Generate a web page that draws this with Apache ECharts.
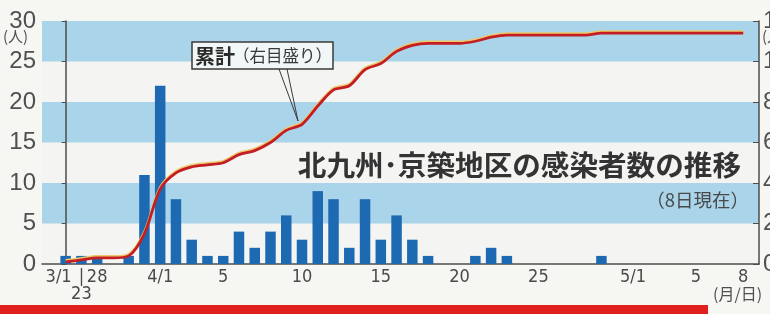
<!DOCTYPE html>
<html>
<head>
<meta charset="utf-8">
<script src="https://cdn.jsdelivr.net/npm/echarts@6/dist/echarts.min.js"></script>
<style>
    html, body { margin: 0; padding: 0; background: #f6f6f3; }
    #chart { width: 770px; height: 314px; }
</style>
</head>
<body>
<div id="chart"></div>
<script>
// Days shown on the axis (the axis jumps from 3/1 to 3/23, then to 3/28)
const dates = [
    '3/1', '3/23', '3/28', '3/29', '3/30', '3/31',
    '4/1', '4/2', '4/3', '4/4', '4/5', '4/6', '4/7', '4/8', '4/9', '4/10',
    '4/11', '4/12', '4/13', '4/14', '4/15', '4/16', '4/17', '4/18', '4/19', '4/20',
    '4/21', '4/22', '4/23', '4/24', '4/25', '4/26', '4/27', '4/28', '4/29', '4/30',
    '5/1', '5/2', '5/3', '5/4', '5/5', '5/6', '5/7', '5/8'
];

// New cases per day (left scale)
const newCases = [
    1, 1, 1, 0, 1, 11,
    22, 8, 3, 1, 1, 4, 2, 4, 6, 3,
    9, 8, 2, 8, 3, 6, 3, 1, 0, 0,
    1, 2, 1, 0, 0, 0, 0, 0, 1, 0,
    0, 0, 0, 0, 0, 0, 0, 0
];

// Cumulative total (right scale)
const cumulative = [
    1, 2, 3, 3, 4, 15,
    37, 45, 48, 49, 50, 54, 56, 60, 66, 69,
    78, 86, 88, 96, 99, 105, 108, 109, 109, 109,
    110, 112, 113, 113, 113, 113, 113, 113, 114, 114,
    114, 114, 114, 114, 114, 114, 114, 114
];

// Which days get a label on the x axis, and what it reads
const labelDates = ['3/1', '3/23', '3/28', '4/1', '4/5', '4/10', '4/15', '4/20', '4/25', '5/1', '5/5', '5/8'];
const labelTexts = ['3/1', '|\n23', '28', '4/1', '5', '10', '15', '20', '25', '5/1', '5', '8'];

const numFont = '"Liberation Sans", Arial, sans-serif';
const narrowFont = '"Liberation Sans Narrow", "DejaVu Sans Condensed", "Liberation Sans", sans-serif';
const jpFont = '"Noto Sans CJK JP", "Noto Sans", sans-serif';

const chart = echarts.init(document.getElementById('chart'));

const barData = dates.map((d, i) => [i, newCases[i]]);
const lineData = dates.map((d, i) => [i, cumulative[i]]);

const option = {
    animation: false,
    backgroundColor: '#f6f6f3',
    grid: { left: 42, right: 11, top: 21, bottom: 50, containLabel: false, outerBoundsMode: 'none' },
    xAxis: {
        type: 'value',
        min: -1.5,
        max: 44,
        interval: 0.5,
        axisLine: { show: true, lineStyle: { color: '#4d4d4d', width: 1.5 } },
        axisTick: { show: false },
        splitLine: { show: false },
        axisLabel: {
            margin: 5,
            color: '#4a4a4a',
            fontSize: 18,
            lineHeight: 17,
            fontFamily: narrowFont,
            showMinLabel: false,
            showMaxLabel: true,
            formatter: function(v) {
                if (!Number.isInteger(v) || v < 0 || v >= dates.length) return '';
                const k = labelDates.indexOf(dates[v]);
                if (k < 0) return '';
                if (k === 0) return '{l|' + labelTexts[k] + '}';
                return labelTexts[k];
            },
            rich: {
                l: { fontSize: 18, color: '#4a4a4a', fontFamily: narrowFont, padding: [0, 14, 0, 0] }
            }
        }
    },
    yAxis: [
        {
            type: 'value',
            position: 'left',
            min: 0,
            max: 30,
            interval: 5,
            axisLine: { show: true, lineStyle: { color: '#4d4d4d', width: 1.5 } },
            axisTick: { show: true, length: 4, lineStyle: { color: '#4d4d4d' } },
            axisLabel: { margin: 6, color: '#505050', fontSize: 24, fontFamily: numFont },
            splitLine: { show: false },
            splitArea: { show: true, areaStyle: { color: ['#f4f5f2', '#a9d4ea'] } }
        },
        {
            type: 'value',
            position: 'right',
            min: 0,
            max: 120,
            interval: 20,
            axisLine: { show: true, lineStyle: { color: '#4d4d4d', width: 1.5 } },
            axisTick: { show: true, inside: true, length: 6, lineStyle: { color: '#4d4d4d' } },
            axisLabel: { margin: 4, color: '#505050', fontSize: 24, fontFamily: numFont },
            splitLine: { show: false }
        }
    ],
    series: [
        {
            name: '感染者数',
            type: 'bar',
            yAxisIndex: 0,
            barWidth: 10.5,
            data: barData,
            itemStyle: { color: '#1d6ab3' }
        },
        {
            name: '累計',
            type: 'line',
            yAxisIndex: 1,
            smooth: 0.3,
            symbol: 'none',
            data: lineData,
            z: 5,
            lineStyle: {
                color: '#c41e24',
                width: 2.8,
                shadowColor: '#ecc86a',
                shadowOffsetY: -1.5,
                shadowBlur: 0
            }
        }
    ],
    graphic: [
        // unit labels
        { type: 'text', x: 3, y: 29, style: { text: '(人)', fontSize: 15, fontFamily: jpFont, fill: '#505050' } },
        { type: 'text', x: 762, y: 29, style: { text: '(人)', fontSize: 15, fontFamily: jpFont, fill: '#505050' } },
        { type: 'text', x: 713, y: 286, style: { text: '(月/日)', fontSize: 16, fontFamily: jpFont, fill: '#505050' } },
        // title
        {
            type: 'text', x: 741, y: 165, z: 10,
            style: {
                text: '北九州･京築地区の感染者数の推移',
                align: 'right', textAlign: 'right', verticalAlign: 'middle', textVerticalAlign: 'middle',
                fontSize: 28.6, fontWeight: 'bold', fontFamily: jpFont, fill: '#333333'
            }
        },
        {
            type: 'text', x: 749, y: 200, z: 10,
            style: {
                text: '（8日現在）',
                align: 'right', textAlign: 'right', verticalAlign: 'middle', textVerticalAlign: 'middle',
                fontSize: 18.5, fontFamily: jpFont, fill: '#4a4a4a'
            }
        },
        // callout for the cumulative line
        {
            type: 'polyline', z: 9,
            shape: { points: [[279, 69], [298, 121], [287, 69]] },
            style: { stroke: '#3a3a3a', lineWidth: 1, fill: null }
        },
        {
            type: 'rect', z: 9,
            shape: { x: 192, y: 42, width: 141, height: 27 },
            style: { fill: '#f1f6f6', stroke: '#3a3a3a', lineWidth: 1.5 }
        },
        {
            type: 'text', x: 195, y: 56, z: 10,
            style: {
                text: '累計', verticalAlign: 'middle', textVerticalAlign: 'middle',
                fontSize: 20, fontWeight: 'bold', fontFamily: jpFont, fill: '#2a2a2a'
            }
        },
        {
            type: 'text', x: 233, y: 56, z: 10,
            style: {
                text: '（右目盛り）', verticalAlign: 'middle', textVerticalAlign: 'middle',
                fontSize: 16.5, fontFamily: jpFont, fill: '#3a3a3a'
            }
        },
        // red band along the bottom
        {
            type: 'rect', z: 10,
            shape: { x: 0, y: 305, width: 708, height: 9 },
            style: { fill: '#e0201c' }
        }
    ]
};

chart.setOption(option);
</script>
</body>
</html>
